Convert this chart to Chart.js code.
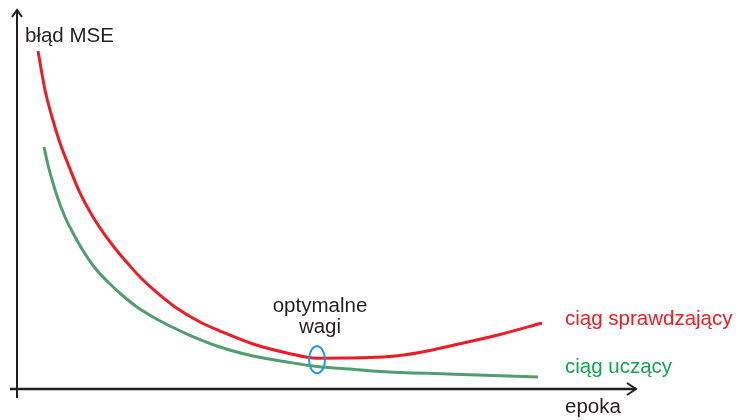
<!DOCTYPE html>
<html>
<head>
<meta charset="utf-8">
<script src="https://cdn.jsdelivr.net/npm/chart.js@4.4.1/dist/chart.umd.min.js"></script>
<style>
  html, body { margin: 0; padding: 0; background: #fff; }
  #wrap { width: 741px; height: 420px; }
</style>
</head>
<body>
<div id="wrap"><canvas id="myChart" width="741" height="420"></canvas></div>
<script>
// epoka (x) i błąd MSE (y)
const valEpochs = [2.92, 3.89, 4.86, 5.97, 7.36, 8.75, 10.56, 12.23, 14.03, 15.70, 17.09, 19.17, 21.95,
                   25.42, 28.20, 32.79, 37.51, 41.68, 46.26, 49.74, 53.21, 56.68, 60.16, 67.10, 72.94];
const valError  = [89.18, 78.89, 71.77, 64.91, 58.05, 51.72, 45.38, 40.63, 36.15, 32.45, 29.55, 25.86, 21.64,
                   17.68, 15.30, 11.87, 9.50, 8.10, 8.18, 8.36, 8.84, 9.89, 11.35, 14.38, 17.41];
const trainEpochs = [3.75, 4.31, 5.00, 5.70, 6.67, 7.78, 9.03, 10.84, 12.50, 14.59, 16.67, 18.89, 21.26,
                     23.62, 28.20, 32.79, 37.51, 41.68, 46.26, 50.43, 59.74, 72.38];
const trainError  = [63.85, 59.10, 54.35, 50.13, 45.38, 41.16, 36.94, 31.93, 28.50, 24.80, 21.64, 19.00, 16.62,
                     14.51, 11.08, 8.71, 7.12, 5.94, 5.28, 4.62, 3.96, 3.17];

const labels = {
    yAxis: "błąd MSE",
    xAxis: "epoka",
    val: "ciąg sprawdzający",
    train: "ciąg uczący",
    optimum: ["optymalne", "wagi"]
};

const RED = "#ed1c24";
const GREEN_LINE = "#4f9e6f";
const GREEN_TEXT = "#12a34f";
const DARK = "#231f20";
const FONT = '20.5px "Liberation Sans", Arial, sans-serif';

function toPoints(xs, ys) {
    return xs.map((x, i) => ({ x: x, y: ys[i] }));
}

// osie ze strzałkami, podpisy i elipsa przy minimum
const decorations = {
    id: "decorations",
    afterDraw(chart) {
        const ctx = chart.ctx;
        const a = chart.chartArea;
        const xs = chart.scales.x, ys = chart.scales.y;
        ctx.save();
        ctx.strokeStyle = DARK;
        ctx.lineCap = "butt";
        // oś Y
        ctx.lineWidth = 2;
        ctx.beginPath();
        ctx.moveTo(a.left, a.bottom + 9);
        ctx.lineTo(a.left, a.top);
        ctx.stroke();
        ctx.beginPath();
        ctx.moveTo(a.left - 5, a.top + 7);
        ctx.lineTo(a.left, a.top);
        ctx.lineTo(a.left + 5, a.top + 7);
        ctx.stroke();
        // oś X
        ctx.lineWidth = 2.5;
        ctx.beginPath();
        ctx.moveTo(a.left - 7, a.bottom);
        ctx.lineTo(a.right, a.bottom);
        ctx.stroke();
        ctx.lineWidth = 2;
        ctx.beginPath();
        ctx.moveTo(a.right - 9, a.bottom - 6);
        ctx.lineTo(a.right, a.bottom);
        ctx.lineTo(a.right - 9, a.bottom + 6);
        ctx.stroke();

        ctx.font = FONT;
        ctx.textBaseline = "alphabetic";
        ctx.textAlign = "left";
        ctx.fillStyle = DARK;
        ctx.fillText(labels.yAxis, a.left + 8, 42);
        ctx.fillText(labels.xAxis, 565, 413);

        // podpisy serii przy końcach linii
        const vEnd = valEpochs.length - 1;
        const tEnd = trainEpochs.length - 1;
        ctx.fillStyle = RED;
        ctx.fillText(labels.val, 565, ys.getPixelForValue(valError[vEnd]) + 2);
        ctx.fillStyle = GREEN_TEXT;
        ctx.fillText(labels.train, 565, ys.getPixelForValue(trainError[tEnd]) - 4);

        // minimum ciągu sprawdzającego
        let iMin = 0;
        valError.forEach((v, i) => { if (v < valError[iMin]) iMin = i; });
        const cx = xs.getPixelForValue(valEpochs[iMin]);
        const cy = ys.getPixelForValue(valError[iMin]) + 1.5;
        ctx.strokeStyle = "#1c9ad6";
        ctx.lineWidth = 2;
        ctx.beginPath();
        ctx.ellipse(cx, cy, 8, 13.5, 0, 0, Math.PI * 2);
        ctx.stroke();

        ctx.fillStyle = DARK;
        ctx.textAlign = "center";
        ctx.fillText(labels.optimum[0], cx + 3, cy - 48);
        ctx.fillText(labels.optimum[1], cx + 3, cy - 27);
        ctx.restore();
    }
};

const ctx = document.getElementById("myChart").getContext("2d");
const myChart = new Chart(ctx, {
    type: "line",
    data: {
        datasets: [{
            label: labels.val,
            data: toPoints(valEpochs, valError),
            borderColor: RED,
            borderWidth: 3,
            pointRadius: 0,
            cubicInterpolationMode: "monotone"
        }, {
            label: labels.train,
            data: toPoints(trainEpochs, trainError),
            borderColor: GREEN_LINE,
            borderWidth: 3,
            pointRadius: 0,
            cubicInterpolationMode: "monotone"
        }]
    },
    options: {
        responsive: false,
        animation: false,
        layout: { padding: { left: 17, right: 105, top: 10, bottom: 31 } },
        plugins: {
            legend: { display: false },
            tooltip: { enabled: false }
        },
        scales: {
            x: { type: "linear", min: 0, max: 86, display: false },
            y: { min: 0, max: 100, display: false }
        }
    },
    plugins: [decorations]
});
</script>
</body>
</html>
